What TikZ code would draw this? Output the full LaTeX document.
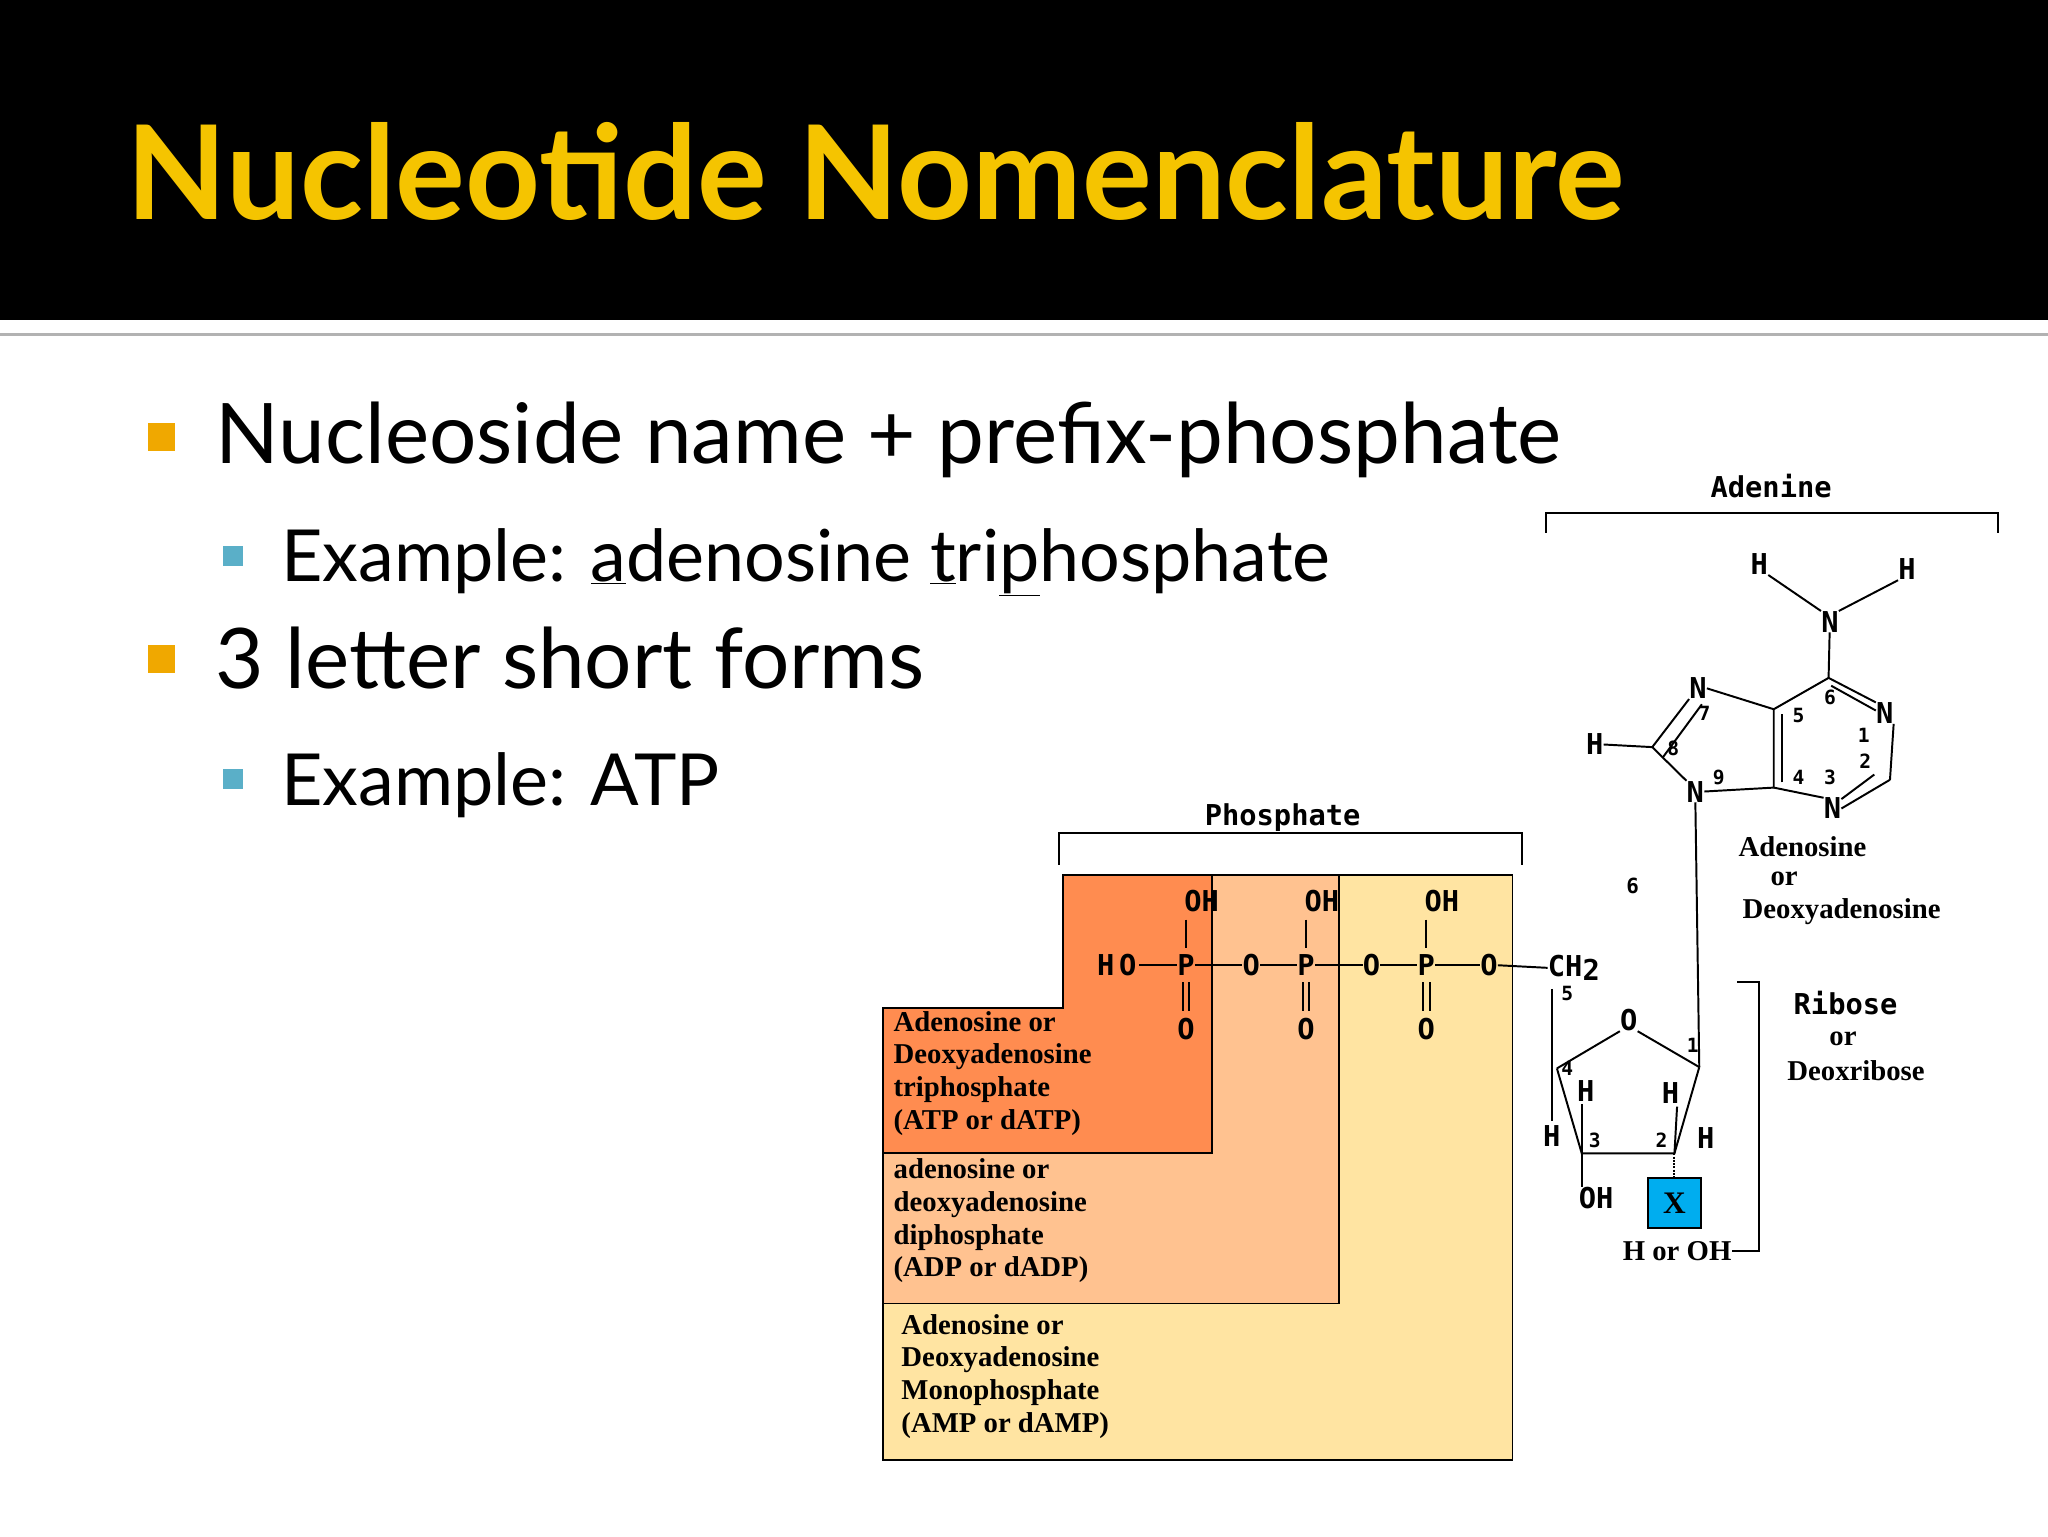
\documentclass[tikz,border=0pt]{standalone}
\usepackage{fontspec}
\setmainfont{Liberation Serif}
\newfontfamily\slidefont{Lato}
\newfontfamily\chemfont{DejaVu Sans Mono}
\usetikzlibrary{calc}
\definecolor{titley}{HTML}{F5C400}
\definecolor{bulo}{HTML}{F0A800}
\definecolor{bulb}{HTML}{5AAFC8}
\definecolor{orng}{HTML}{FF8C50}
\definecolor{peach}{HTML}{FFC290}
\definecolor{ylw}{HTML}{FFE4A2}
\tikzset{
 chem/.style={inner sep=0pt,font=\chemfont\bfseries\fontsize{22}{24}\selectfont},
 num/.style={inner sep=0pt,font=\chemfont\bfseries\fontsize{15}{16}\selectfont},
 lbl/.style={inner sep=0pt,align=left,anchor=north west,font=\bfseries\fontsize{22}{25}\selectfont},
 bond/.style={line width=1.5pt},
}
\begin{document}
\begin{tikzpicture}[x=1pt,y=-1pt]
\useasboundingbox (0,0) rectangle (1568,1176);
\fill[white] (0,0) rectangle (1568,1176);
\fill[black] (0,0) rectangle (1568,245);
\draw[gray!60,line width=2pt] (0,256) -- (1568,256);
\node[anchor=base west,inner sep=0pt,text=titley,font=\slidefont\bfseries\fontsize{100}{110}\selectfont] (title) at (97,168) {Nucleotide Nomenclature};
% bullets
\fill[bulo] (113,324) rectangle (134,345);
\node[anchor=base west,inner sep=0pt,font=\slidefont\fontsize{64}{70}\selectfont] (b1) at (165,355) {Nucleoside name + prefix-phosphate};
\fill[bulb] (171,418) rectangle (186,433);
\node[anchor=base west,inner sep=0pt,font=\slidefont\fontsize{55}{60}\selectfont] (b2) at (215,445) {Example: \underline{a}denosine \underline{t}ri\underline{p}hosphate};
\fill[bulo] (113,494) rectangle (134,515);
\node[anchor=base west,inner sep=0pt,font=\slidefont\fontsize{64}{70}\selectfont] (b3) at (165,527) {3 letter short forms};
\fill[bulb] (171,589) rectangle (186,604);
\node[anchor=base west,inner sep=0pt,font=\slidefont\fontsize{55}{60}\selectfont] (b4) at (215,617) {Example: ATP};
% boxes
\filldraw[fill=ylw,draw=black,line width=1.3pt] (814,670) -- (1158,670) -- (1158,1118) -- (676,1118) -- (676,772) -- (814,772) -- cycle;
\filldraw[fill=peach,draw=black,line width=1.3pt] (814,670) -- (1025,670) -- (1025,998) -- (676,998) -- (676,772) -- (814,772) -- cycle;
\filldraw[fill=orng,draw=black,line width=1.3pt] (814,670) -- (928,670) -- (928,883) -- (676,883) -- (676,772) -- (814,772) -- cycle;
\node[lbl] (t1) at (684,774) {Adenosine or\\Deoxyadenosine\\triphosphate\\(ATP or dATP)};
\node[lbl] (t2) at (684,887) {adenosine or\\deoxyadenosine\\diphosphate\\(ADP or dADP)};
\node[lbl] (t3) at (690,1006) {Adenosine or\\Deoxyadenosine\\Monophosphate\\(AMP or dAMP)};
% phosphate bracket
\draw[line width=1.5pt] (811,662) -- (811,638) -- (1165,638) -- (1165,662);
\node[chem] (phl) at (982,626) {Phosphate};
% phosphate chain
\node[chem] (ho) at (855,739) {H\,O};
\node[chem] (p1) at (908,739) {P};
\node[chem] (o1) at (958,739) {O};
\node[chem] (p2) at (1000,739) {P};
\node[chem] (o2) at (1050,739) {O};
\node[chem] (p3) at (1092,739) {P};
\node[chem] (o3) at (1140,739) {O};
\node[chem] (ch2) at (1205,741) {CH\raisebox{-0.3ex}{2}};
\foreach \p/\x in {p1/908,p2/1000,p3/1092}{
  \node[chem] (\p oh) at (\x+12,690) {OH};
  \node[chem] (\p o) at (\x,788) {O};
  \draw[bond] (\x,704) -- (\x,726);
  \draw[bond] (\x-2.5,752) -- (\x-2.5,774);
  \draw[bond] (\x+2.5,752) -- (\x+2.5,774);
}
\draw[bond] (ho.east)++(2,0) -- (p1.west);
\draw[bond] (p1.east) -- (o1.west);
\draw[bond] (o1.east) -- (p2.west);
\draw[bond] (p2.east) -- (o2.west);
\draw[bond] (o2.east) -- (p3.west);
\draw[bond] (p3.east) -- (o3.west);
\draw[bond] (o3.east) -- (ch2.west);
% ribose
\node[num] (n5r) at (1200,761) {5};
\node[chem] (stray6) at (1250,678) {\fontsize{16}{16}\selectfont 6};
\coordinate (c4) at (1192,818);
\coordinate (c1) at (1301,817);
\coordinate (c2) at (1282,883);
\coordinate (c3) at (1211,883);
\node[chem] (or) at (1247,781) {O};
\draw[bond] (1188,757) -- (1188,858);
\draw[bond] (c4) -- (or.south west);
\draw[bond] (or.south east) -- (c1);
\draw[bond] (c4) -- (c3) -- (c2) -- (c1);
\node[num] (n4r) at (1200,818) {4};
\node[num] (n1r) at (1296,800) {1};
\node[num] (n3r) at (1221,873) {3};
\node[num] (n2r) at (1272,873) {2};
\node[chem] (h3) at (1214,835) {H};
\node[chem] (h2) at (1279,837) {H};
\node[chem] (h4) at (1188,870) {H};
\node[chem] (h1) at (1306,871) {H};
\draw[bond] (h3.south) ++(-3,2) -- (c3);
\draw[bond] (h2.south) ++(5,2) -- (c2);
\node[chem] (ohr) at (1222,917) {OH};
\draw[bond] (c3) -- (ohr.north -| c3);
\node[draw=black,fill=cyan,line width=1.5pt,minimum width=40pt,minimum height=38pt,inner sep=0pt,font=\bfseries\fontsize{24}{24}\selectfont] (xb) at (1282,921) {X};
\draw[bond,densely dotted] (c2) -- (xb.north -| c2);
\node[inner sep=0pt,font=\bfseries\fontsize{22}{24}\selectfont] (hoh) at (1284,958) {H or OH};
\draw[bond] (1330,752) -- (1347,752) -- (1347,958) -- (hoh.east);
\node[chem,align=center] (rib) at (1413,768) {Ribose};
\node[inner sep=0pt,font=\bfseries\fontsize{22}{24}\selectfont] (ribor) at (1411,795) {or};
\node[inner sep=0pt,font=\bfseries\fontsize{22}{24}\selectfont] (deox) at (1421,820) {Deoxribose};
% adenine
\draw[line width=1.5pt] (1184,408) -- (1184,393) -- (1530,393) -- (1530,408);
\node[chem] (adl) at (1356,372) {Adenine};
\node[chem] (ha) at (1347,432) {H};
\node[chem] (hb) at (1460,436) {H};
\node[chem] (n6) at (1401,476) {N};
\draw[bond] (ha.south east) -- (n6.north west);
\draw[bond] (hb.south west) -- (n6.north east);
\coordinate (a6) at (1400,519);
\coordinate (a5) at (1358,543);
\coordinate (a4) at (1358,603);
\coordinate (a2) at (1447,597);
\coordinate (a8) at (1265,572);
\node[chem] (n1) at (1443,546) {N};
\node[chem] (n3) at (1403,619) {N};
\node[chem] (n7) at (1300,527) {N};
\node[chem] (n9) at (1298,606) {N};
\node[chem] (h8) at (1221,570) {H};
\draw[bond] (n6) -- (a6);
\draw[bond] (a6) -- (n1.north west);
\draw[bond] ($(a6)+(2,6)$) -- ($(n1.west)+(0,-2)$);
\draw[bond] (n1.south east) -- (a2);
\draw[bond] (a2) -- (n3.east);
\draw[bond] ($(a2)+(-12,-4)$) -- ($(n3.north east)+(0,1)$);
\draw[bond] (n3.north west) -- (a4);
\draw[bond] (a4) -- (a5) -- (a6);
\draw[bond] ($(a4)+(6,-4)$) -- ($(a5)+(6,4)$);
\draw[bond] (a5) -- (n7.east);
\draw[bond] (a4) -- (n9.east);
\draw[bond] (n7.south west) -- (a8) -- (n9.north west);
\draw[bond] ($(n7.south)+(3,4)$) -- ($(a8)+(8,8)$);
\draw[bond] (h8.east) -- (a8);
\draw[bond] (n9.south) -- (c1);
\node[num] (k5) at (1377,548) {5};
\node[num] (k6) at (1401,534) {6};
\node[num] (k1) at (1427,563) {1};
\node[num] (k2) at (1428,583) {2};
\node[num] (k3) at (1401,595) {3};
\node[num] (k4) at (1377,595) {4};
\node[num] (k7) at (1305,546) {7};
\node[num] (k8) at (1281,573) {8};
\node[num] (k9) at (1316,595) {9};
\node[inner sep=0pt,font=\bfseries\fontsize{22}{24}\selectfont] (ad1) at (1380,648) {Adenosine};
\node[inner sep=0pt,font=\bfseries\fontsize{22}{24}\selectfont] (ad2) at (1366,673) {or};
\node[inner sep=0pt,font=\bfseries\fontsize{22}{24}\selectfont] (ad3) at (1410,698) {Deoxyadenosine};
\end{tikzpicture}
\end{document}
